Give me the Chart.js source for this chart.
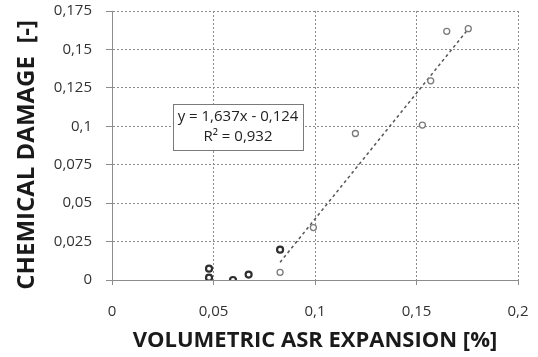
<!DOCTYPE html>
<html>
<head>
<meta charset="utf-8">
<script src="https://cdn.jsdelivr.net/npm/chart.js@4/dist/chart.umd.min.js"></script>
<style>
  html, body { margin: 0; padding: 0; background: #ffffff; }
  #wrap { width: 538px; height: 357px; }
</style>
</head>
<body>
<div id="wrap"><canvas id="c" width="538" height="357"></canvas></div>
<script>
// Specimens with low expansion (dark markers)
const earlyExpansion = [0.0478, 0.0478, 0.0596, 0.0673, 0.0828];
const earlyDamage    = [0.0074, 0.0015, 0.0000, 0.0035, 0.0197];

// Specimens used for the linear fit (light markers)
const fitExpansion = [0.0828, 0.0992, 0.1199, 0.1529, 0.1570, 0.1649, 0.1755];
const fitDamage    = [0.0050, 0.0341, 0.0953, 0.1008, 0.1296, 0.1618, 0.1635];

// Linear regression reported in the label
const slope = 1.637;
const intercept = -0.124;
const rSquared = 0.932;

const xTickLabels = ['0', '0,05', '0,1', '0,15', '0,2'];
const yTickLabels = ['0', '0,025', '0,05', '0,075', '0,1', '0,125', '0,15', '0,175'];

const fmt = (v, d) => v.toFixed(d).replace('.', ',');
const toPoints = (xs, ys) => xs.map((x, i) => ({ x: x, y: ys[i] }));

const fitMin = Math.min(...fitExpansion);
const fitMax = Math.max(...fitExpansion);
const trend = [fitMin, fitMax].map(x => ({ x: x, y: slope * x + intercept }));

const axisGrey = '#8c8c8c';
const textDark = '#1a1a1a';

// Framed box with the regression equation
const equationBox = {
  id: 'equationBox',
  afterDatasetsDraw(chart) {
    const { ctx, chartArea } = chart;
    const x0 = chartArea.left + 61, y0 = chartArea.top + 93;
    const w = 130, h = 46;
    ctx.save();
    ctx.fillStyle = '#ffffff';
    ctx.fillRect(x0, y0, w, h);
    ctx.strokeStyle = '#7a7a7a';
    ctx.lineWidth = 1;
    ctx.strokeRect(x0 + 0.5, y0 + 0.5, w, h);
    ctx.fillStyle = '#222222';
    ctx.font = '15px "Open Sans"';
    ctx.textAlign = 'center';
    ctx.textBaseline = 'middle';
    const sign = intercept < 0 ? ' - ' : ' + ';
    ctx.fillText('y = ' + fmt(slope, 3) + 'x' + sign + fmt(Math.abs(intercept), 3), x0 + w / 2, y0 + 13);
    ctx.fillText('R\u00B2 = ' + fmt(rSquared, 3), x0 + w / 2, y0 + 33);
    ctx.restore();
  }
};

// Fixed axis bands; tick-label overhang is absorbed by the layout padding
function fixedBand(size) {
  return function (scale) {
    if (scale.isHorizontal()) scale.height = size; else scale.width = size;
    scale.paddingLeft = 0;
    scale.paddingRight = 0;
    scale.paddingTop = 0;
    scale.paddingBottom = 0;
  };
}

new Chart(document.getElementById('c'), {
  type: 'scatter',
  data: {
    datasets: [
      {
        label: 'trend',
        type: 'line',
        data: trend,
        borderColor: '#555555',
        borderWidth: 1.5,
        borderDash: [3, 3],
        pointRadius: 0,
        fill: false,
        order: 3
      },
      {
        label: 'early',
        data: toPoints(earlyExpansion, earlyDamage),
        pointStyle: 'circle',
        pointRadius: 3,
        backgroundColor: '#ffffff',
        borderColor: '#2e2e2e',
        borderWidth: 2.2,
        order: 1
      },
      {
        label: 'fit',
        data: toPoints(fitExpansion, fitDamage),
        pointStyle: 'circle',
        pointRadius: 3,
        backgroundColor: '#ffffff',
        borderColor: '#7a7a7a',
        borderWidth: 1.3,
        order: 2
      }
    ]
  },
  options: {
    responsive: false,
    animation: false,
    devicePixelRatio: 1,
    layout: { padding: { top: 11, right: 20, left: 0, bottom: 0 } },
    plugins: {
      legend: { display: false },
      tooltip: { enabled: false }
    },
    scales: {
      x: {
        type: 'linear',
        min: 0,
        max: 0.2,
        afterFit: fixedBand(77),
        ticks: {
          stepSize: 0.05,
          color: '#333333',
          font: { family: 'Open Sans', size: 15 },
          padding: 18,
          maxRotation: 0,
          callback: (v, i) => xTickLabels[i]
        },
        grid: { color: axisGrey, lineWidth: 1, tickLength: 5, tickColor: axisGrey },
        border: { color: axisGrey, width: 1, dash: [2, 2] },
        title: {
          display: true,
          text: 'VOLUMETRIC ASR EXPANSION [%]',
          color: textDark,
          font: { family: 'Open Sans', size: 22, weight: 'bold' },
          padding: { top: 0, bottom: 3 }
        }
      },
      y: {
        type: 'linear',
        min: 0,
        max: 0.175,
        afterFit: fixedBand(112),
        ticks: {
          stepSize: 0.025,
          color: '#333333',
          font: { family: 'Open Sans', size: 15 },
          padding: 14,
          callback: (v, i) => yTickLabels[i]
        },
        grid: { color: axisGrey, lineWidth: 1, tickLength: 6, tickColor: axisGrey },
        border: { color: axisGrey, width: 1, dash: [2, 2] },
        title: {
          display: true,
          text: 'CHEMICAL DAMAGE  [-]   ',
          color: textDark,
          font: { family: 'Open Sans', size: 24, weight: 'bold' },
          padding: { top: 13, bottom: 0 }
        }
      }
    }
  },
  plugins: [equationBox]
});
</script>
</body>
</html>
